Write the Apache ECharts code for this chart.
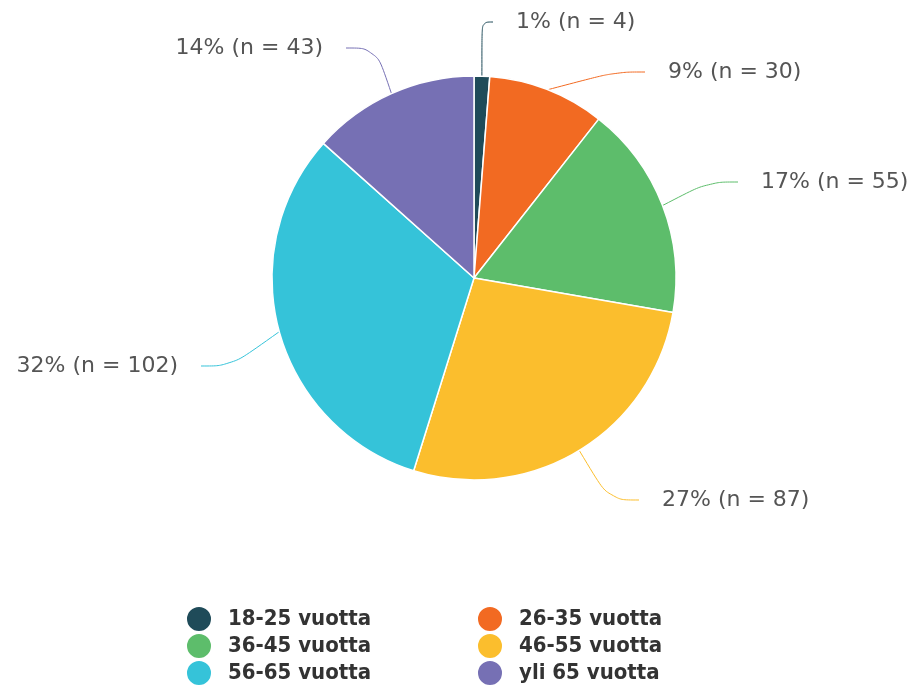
<!DOCTYPE html>
<html>
<head>
<meta charset="utf-8">
<script src="https://cdn.jsdelivr.net/npm/echarts@6/dist/echarts.min.js"></script>
<style>
  html, body { margin: 0; padding: 0; background: #fff; }
  #ageChart { width: 915px; height: 686px; }
</style>
</head>
<body>
<div id="ageChart"></div>
<script>
// age groups and counts
var categories = ['18-25 vuotta', '26-35 vuotta', '36-45 vuotta', '46-55 vuotta', '56-65 vuotta', 'yli 65 vuotta'];
var counts = [4, 30, 55, 87, 102, 43];
var percentLabels = ['1%', '9%', '17%', '27%', '32%', '14%'];
var colors = ['#1f4b59', '#f26a22', '#5dbd6b', '#fbbe2d', '#35c3d9', '#7670b4'];

// label box anchor (where the line ends) and text middle height
var labelSpots = [
	{ x: 493, y: 22, align: 'left' },
	{ x: 645, y: 72, align: 'left' },
	{ x: 738, y: 182, align: 'left' },
	{ x: 639, y: 500, align: 'left' },
	{ x: 201, y: 366, align: 'right' },
	{ x: 346, y: 48, align: 'right' }
];

var pieData = categories.map(function (name, i) {
	var text = percentLabels[i] + ' (n = ' + counts[i] + ')';
	// an empty spacer keeps the line end away from the text
	var fmt = labelSpots[i].align === 'left' ? '{gap|}' + text : text + '{gap|}';
	return {
		name: name,
		value: counts[i],
		label: { formatter: fmt }
	};
});

var legendText = {
	fontFamily: 'DejaVu Sans Condensed, Liberation Sans, sans-serif',
	fontSize: 22,
	fontWeight: 'bold',
	color: '#333',
	padding: [0, 0, 0, 11]
};

var ageChart = echarts.init(document.getElementById('ageChart'));

function legendColumn(left, names) {
	return {
		orient: 'vertical',
		left: left,
		top: 600,
		height: 90,
		padding: 5,
		itemWidth: 26,
		itemHeight: 26,
		itemGap: -1,
		icon: 'circle',
		textStyle: legendText,
		data: names
	};
}

var option = {
	color: colors,
	animation: false,
	legend: [
		legendColumn(180, [categories[0], categories[2], categories[4]]),
		legendColumn(471, [categories[1], categories[3], categories[5]])
	],
	series: [
		{
			type: 'pie',
			center: [474, 278],
			radius: 202,
			startAngle: 90,
			clockwise: true,
			itemStyle: {
				borderColor: '#fff',
				borderWidth: 1.5
			},
			label: {
				fontFamily: 'DejaVu Sans, Liberation Sans, sans-serif',
				fontSize: 22,
				color: '#555',
				rich: {
					gap: { width: 23 }
				}
			},
			labelLine: {
				show: true,
				length: 30,
				length2: 30,
				smooth: 0.4,
				lineStyle: { width: 1 }
			},
			labelLayout: function (params) {
				var spot = labelSpots[params.dataIndex];
				return {
					x: spot.x,
					y: spot.y,
					align: spot.align,
					verticalAlign: 'middle'
				};
			},
			data: pieData
		}
	]
};

ageChart.setOption(option);
</script>
</body>
</html>
